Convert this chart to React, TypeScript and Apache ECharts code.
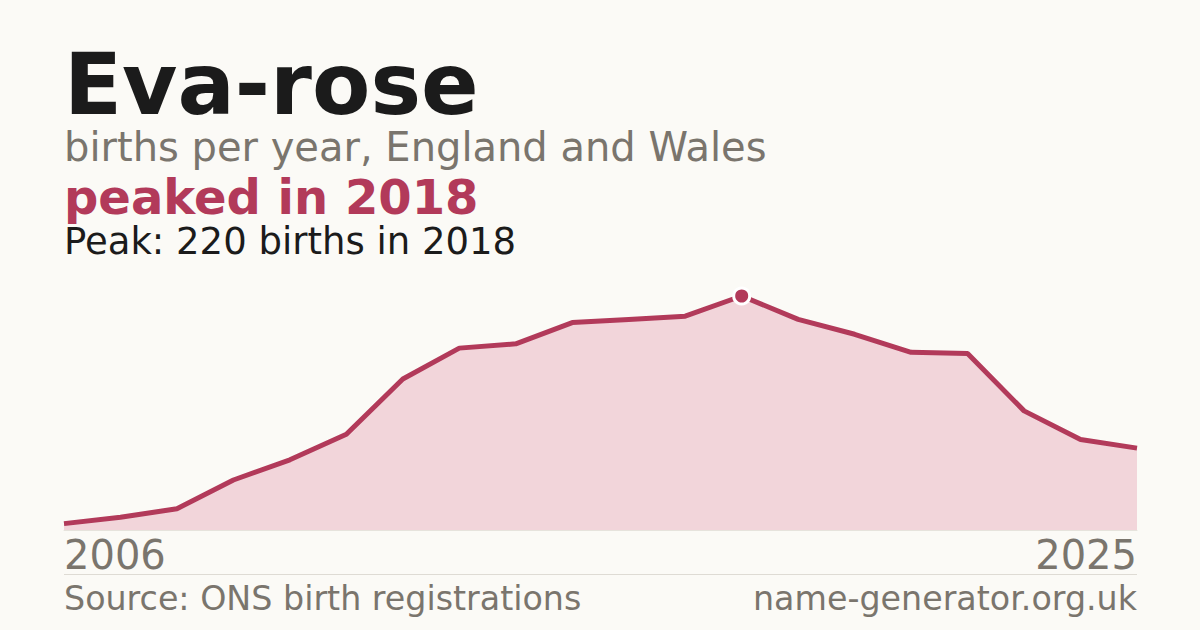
import * as echarts from 'echarts';
import { useEffect, useRef } from 'react';

const years = ['2006', '2007', '2008', '2009', '2010', '2011', '2012', '2013', '2014', '2015',
    '2016', '2017', '2018', '2019', '2020', '2021', '2022', '2023', '2024', '2025'];
const births = [6, 12, 20, 47, 66, 90, 142, 171, 175, 195, 198, 201, 220, 198, 184, 167, 166, 112, 85, 77];

const nameText = 'Eva-rose';
const subtitleText = 'births per year, England and Wales';
const headlineText = 'peaked in 2018';
const peakText = 'Peak: 220 births in 2018';
const sourceText = 'Source: ONS birth registrations';
const siteText = 'name-generator.org.uk';

const FONT = '"DejaVu Sans", sans-serif';
const BG = '#fbfaf6';
const ACCENT = '#b23a5a';
const FILL = '#f2d5da';
const GREY = '#7a756d';
const DARK = '#1b1b1b';

const App = () => {
    const chartDiv = useRef<HTMLDivElement>(null);

    useEffect(() => {
        document.body.style.margin = '0';
        const chart = echarts.init(chartDiv.current, null, { renderer: 'svg' });
        const last = years.length - 1;

        chart.setOption({
            animation: false,
            backgroundColor: BG,
            grid: { left: 64, right: 63, top: 296, bottom: 100 },
            xAxis: {
                type: 'category',
                data: years,
                boundaryGap: false,
                axisLine: { show: true, lineStyle: { color: '#e6e3dc', width: 1 } },
                axisTick: { show: false },
                axisLabel: {
                    interval: (i: number) => i === 0 || i === last,
                    alignMinLabel: 'left',
                    alignMaxLabel: 'right',
                    margin: 5,
                    fontSize: 40,
                    fontFamily: FONT,
                    color: GREY
                }
            },
            yAxis: {
                type: 'value',
                min: 0,
                max: 220,
                show: false,
                splitLine: { show: false }
            },
            series: [
                {
                    type: 'line',
                    data: births,
                    symbol: 'none',
                    lineStyle: { color: ACCENT, width: 5 },
                    areaStyle: { color: FILL, opacity: 1 },
                    markPoint: {
                        symbol: 'circle',
                        symbolSize: 16,
                        itemStyle: { color: ACCENT, borderColor: '#ffffff', borderWidth: 3 },
                        label: { show: false },
                        data: [{ type: 'max' }]
                    }
                }
            ],
            graphic: [
                {
                    type: 'text',
                    style: { text: nameText, x: 64, y: 84, fill: DARK, font: `bold 85px ${FONT}`, verticalAlign: 'middle' }
                },
                {
                    type: 'text',
                    style: { text: subtitleText, x: 64, y: 147, fill: GREY, font: `40px ${FONT}`, verticalAlign: 'middle' }
                },
                {
                    type: 'text',
                    style: { text: headlineText, x: 64, y: 197, fill: ACCENT, font: `bold 48px ${FONT}`, verticalAlign: 'middle' }
                },
                {
                    type: 'text',
                    style: { text: peakText, x: 64, y: 241, fill: DARK, font: `37px ${FONT}`, verticalAlign: 'middle' }
                },
                {
                    type: 'line',
                    shape: { x1: 64, y1: 574.5, x2: 1137, y2: 574.5 },
                    style: { stroke: '#dedbd4', lineWidth: 1 }
                },
                {
                    type: 'text',
                    style: { text: sourceText, x: 64, y: 598, fill: GREY, font: `33.3px ${FONT}`, verticalAlign: 'middle' }
                },
                {
                    type: 'text',
                    style: { text: siteText, x: 1137, y: 598, fill: GREY, font: `33.3px ${FONT}`, align: 'right', verticalAlign: 'middle' }
                }
            ]
        });

        return () => {
            chart.dispose();
        };
    }, []);

    return <div ref={chartDiv} style={{ position: 'fixed', left: 0, top: 0, width: '1200px', height: '630px' }} />;
};

export default App;
